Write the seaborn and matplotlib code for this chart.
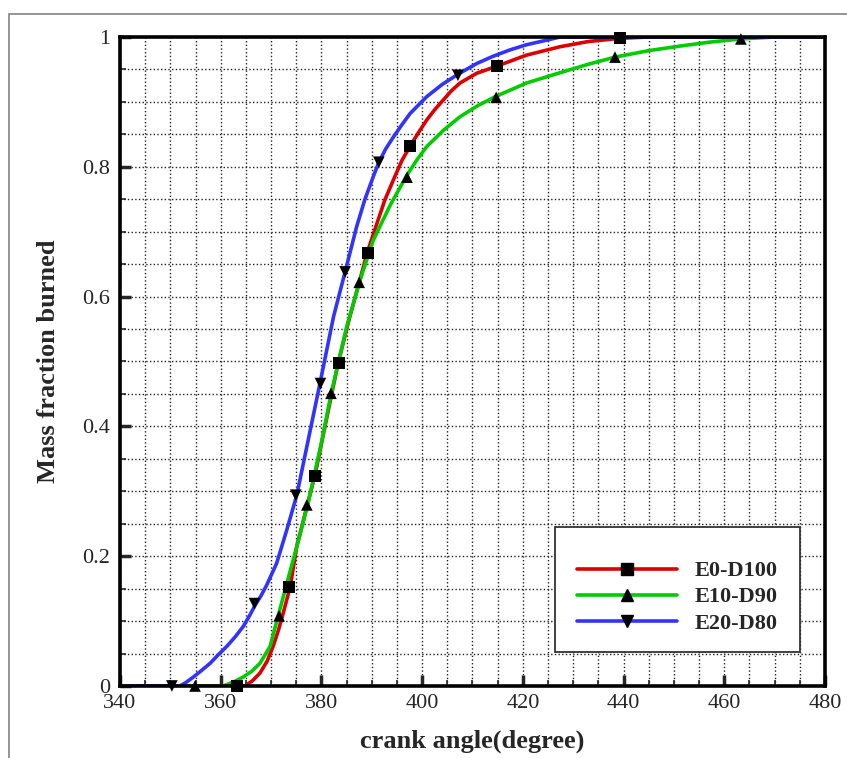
"""Mass fraction burned vs crank angle for three ethanol-diesel blends."""

import matplotlib

matplotlib.use("Agg")
import matplotlib.pyplot as plt
import pandas as pd
import seaborn as sns
from matplotlib.lines import Line2D
from matplotlib.patches import Rectangle
from matplotlib.ticker import MultipleLocator

sns.set_style("ticks")
plt.rcParams["font.family"] = ["Liberation Serif", "DejaVu Serif"]

fuels = ["E0-D100", "E10-D90", "E20-D80"]
colors = {"E0-D100": "#dd0000", "E10-D90": "#00cc00", "E20-D80": "#3333ff"}
markers = {"E0-D100": "s", "E10-D90": "^", "E20-D80": "v"}

# curves
e0_x = [340, 364.8, 366.3, 367.8, 369.2, 370.4, 371.5, 372.4, 373.8, 375.1, 377.1, 378.7, 381,
        383.3, 385.5, 387.5, 389.1, 390.6, 392.6, 394.3, 396, 397.7, 399.3, 400.9, 402.5, 404.2,
        405.8, 407.5, 410.8, 414.8, 420.7, 427.4, 433, 439.3, 445, 480]
e0_y = [0, 0, 0.008, 0.020, 0.038, 0.061, 0.087, 0.112, 0.153, 0.215, 0.276, 0.324, 0.411,
        0.497, 0.565, 0.622, 0.668, 0.703, 0.749, 0.780, 0.810, 0.833, 0.853, 0.872, 0.888, 0.903,
        0.917, 0.929, 0.944, 0.955, 0.972, 0.985, 0.993, 0.998, 1.0, 1.0]

e10_x = [340, 360.5, 362.5, 364.5, 366.2, 367.8, 369.8, 371.4, 373.3, 375.8, 377.4, 380, 382,
         385, 387.7, 390.3, 391.3, 393.6, 396.9, 398.9, 400.9, 404.2, 407.5, 411, 414.5, 420.7,
         427.4, 433, 438.3, 445, 451.2, 457, 463.3, 470, 480]
e10_y = [0, 0, 0.006, 0.014, 0.023, 0.035, 0.061, 0.108, 0.163, 0.235, 0.284, 0.375, 0.453,
         0.553, 0.626, 0.687, 0.703, 0.740, 0.786, 0.810, 0.831, 0.856, 0.877, 0.894, 0.908, 0.929,
         0.945, 0.958, 0.969, 0.979, 0.986, 0.992, 0.997, 1.0, 1.0]

e20_x = [340, 351.9, 353.2, 354.6, 356.2, 357.9, 359.5, 361.2, 362.9, 364.5, 365.7, 366.8, 368,
         369.1, 371.1, 373.1, 375.1, 377.4, 379.7, 382.4, 384.7, 387.0, 388.6, 390.3, 391.4, 392.8,
         394.3, 396, 397.6, 400.9, 404, 407.0, 410.8, 414, 417.4, 420.7, 424.1, 427.4, 480]
e20_y = [0, 0, 0.006, 0.014, 0.024, 0.035, 0.048, 0.061, 0.076, 0.092, 0.108, 0.124, 0.139,
         0.155, 0.189, 0.240, 0.294, 0.380, 0.466, 0.569, 0.638, 0.708, 0.749, 0.785, 0.807, 0.828,
         0.846, 0.865, 0.882, 0.908, 0.927, 0.942, 0.959, 0.970, 0.980, 0.988, 0.994, 1.0, 1.0]

# marker positions
e0_mx = [363.2, 373.6, 378.7, 383.5, 389.2, 397.6, 414.9, 439.3]
e0_my = [0, 0.153, 0.324, 0.498, 0.667, 0.832, 0.955, 0.998]
e10_mx = [354.9, 371.6, 377.1, 381.9, 387.5, 397.0, 414.7, 438.3, 463.3]
e10_my = [0, 0.108, 0.279, 0.451, 0.622, 0.784, 0.907, 0.969, 0.997]
e20_mx = [350.3, 366.7, 374.9, 379.8, 384.7, 391.4, 407.1]
e20_my = [0, 0.127, 0.294, 0.466, 0.638, 0.807, 0.941]

x_ticks = [340, 360, 380, 400, 420, 440, 460, 480]
y_ticks = [0, 0.2, 0.4, 0.6, 0.8, 1.0]
y_ticklabels = ["0", "0.2", "0.4", "0.6", "0.8", "1"]

lines = pd.concat([
    pd.DataFrame({"angle": e0_x, "mfb": e0_y, "fuel": fuels[0]}),
    pd.DataFrame({"angle": e10_x, "mfb": e10_y, "fuel": fuels[1]}),
    pd.DataFrame({"angle": e20_x, "mfb": e20_y, "fuel": fuels[2]}),
])
marks = pd.concat([
    pd.DataFrame({"angle": e0_mx, "mfb": e0_my, "fuel": fuels[0]}),
    pd.DataFrame({"angle": e10_mx, "mfb": e10_my, "fuel": fuels[1]}),
    pd.DataFrame({"angle": e20_mx, "mfb": e20_my, "fuel": fuels[2]}),
])

fig = plt.figure(figsize=(8.47, 7.58), dpi=100)
fig.patches.append(Rectangle((9 / 847, -0.05), 1.1, 1 - 14 / 758 + 0.05, transform=fig.transFigure,
                             fill=False, edgecolor="#8c8c8c", lw=1.3))
ax = fig.add_axes([0.1417, 0.0950, 0.8323, 0.8562])

sns.lineplot(data=lines, x="angle", y="mfb", hue="fuel", palette=colors, estimator=None,
             sort=False, lw=2.6, legend=False, ax=ax)
sns.scatterplot(data=marks, x="angle", y="mfb", style="fuel", markers=markers, color="black",
                s=70, edgecolor="none", legend=False, zorder=5, clip_on=False, ax=ax)

ax.set_xlim(340, 480)
ax.set_ylim(0, 1)
ax.set_xticks(x_ticks)
ax.set_yticks(y_ticks)
ax.set_yticklabels(y_ticklabels)
ax.xaxis.set_minor_locator(MultipleLocator(5))
ax.yaxis.set_minor_locator(MultipleLocator(0.05))
ax.grid(which="both", ls=":", color="#222222", lw=1.0)
ax.set_axisbelow(True)
ax.tick_params(which="major", direction="in", length=8, width=2.5, labelsize=16, pad=6)
ax.tick_params(which="minor", direction="in", length=4, width=1.2)
ax.tick_params(axis="y", pad=7)
for sp in ax.spines.values():
    sp.set_linewidth(2.6)
    sp.set_color("black")

ax.set_xlabel("crank angle(degree)", fontsize=19, fontweight="bold", labelpad=12)
ax.set_ylabel("Mass fraction burned", fontsize=19, fontweight="bold", labelpad=16)

# legend box drawn separately so it sits where the original does
ax.add_patch(Rectangle((0.617, 0.052), 0.348, 0.193, transform=ax.transAxes, facecolor="white",
                       edgecolor="#333333", lw=1.3, zorder=6))
handles = [Line2D([], [], color=colors[f], lw=2.6, marker=markers[f], markersize=8.5,
                  markerfacecolor="black", markeredgecolor="black") for f in fuels]
leg = ax.legend(handles, fuels, loc="upper left", bbox_to_anchor=(0.632, 0.210), frameon=False,
                borderpad=0, handlelength=4.5, handletextpad=0.8, labelspacing=0.25,
                numpoints=1, prop={"weight": "bold", "size": 16})
leg.set_zorder(7)

fig.savefig("out.png", dpi=100)
